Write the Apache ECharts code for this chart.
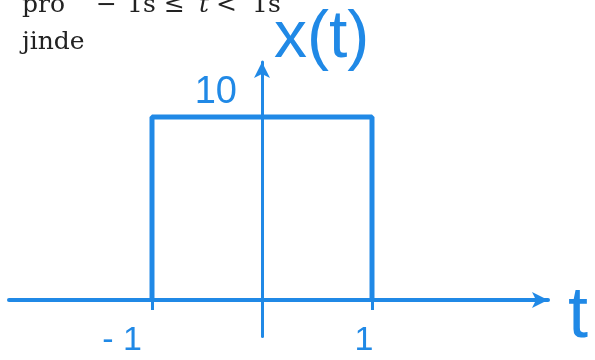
<!DOCTYPE html>
<html>
<head>
<meta charset="utf-8">
<script src="https://cdn.jsdelivr.net/npm/echarts@6/dist/echarts.min.js"></script>
<style>
  html, body { margin: 0; padding: 0; background: #fff; }
  #chart { width: 595px; height: 360px; }
</style>
</head>
<body>
<div id="chart"></div>
<script>
// rechteckiger Impuls x(t)
var pulseT = [-1, -1, 1, 1];
var pulseX = [0, 10, 10, 0];
var tickLabelsT = [-1, 1];
var tickLabelsX = [10];

var blue = '#2089e6';
var hand = 'Liberation Sans';

var pulse = [];
for (var i = 0; i < pulseT.length; i++) {
    pulse.push([pulseT[i], pulseX[i]]);
}

var myChart = echarts.init(document.getElementById('chart'));

// osy leží na nule, popisky ale jdou s okrajem gridu -> posun přes offset
var option = {
    animation: false,
    backgroundColor: '#fff',
    grid: { left: 9, top: 62, width: 539, height: 274.5, containLabel: false, outerBoundsMode: 'none' },
    graphic: [
        // text z knihy (useknutý nahoře)
        { type: 'text', left: 22, top: -7, style: { text: 'pro', fontFamily: 'DejaVu Serif', fontSize: 25, fill: '#222' } },
        { type: 'text', left: 96, top: -7, style: { text: '−', fontFamily: 'DejaVu Serif', fontSize: 25, fill: '#222' } },
        { type: 'text', left: 127, top: -7, style: { text: '1s', fontFamily: 'DejaVu Serif', fontSize: 25, fill: '#222' } },
        { type: 'text', left: 164, top: -7, style: { text: '≤', fontFamily: 'DejaVu Serif', fontSize: 25, fill: '#222' } },
        { type: 'text', left: 199, top: -7, style: { text: 't', fontFamily: 'DejaVu Serif', fontStyle: 'italic', fontSize: 25, fill: '#222' } },
        { type: 'text', left: 216, top: -7, style: { text: '<', fontFamily: 'DejaVu Serif', fontSize: 25, fill: '#222' } },
        { type: 'text', left: 252, top: -7, style: { text: '1s', fontFamily: 'DejaVu Serif', fontSize: 25, fill: '#222' } },
        { type: 'text', left: 22, top: 30, style: { text: 'jinde', fontFamily: 'DejaVu Serif', fontSize: 25, fill: '#222' } }
    ],
    xAxis: {
        type: 'value',
        position: 'bottom',
        offset: -36.6,
        min: -2.3,
        max: 2.6,
        name: '{t|t}',
        nameLocation: 'end',
        nameGap: 20,
        nameTextStyle: {
            color: blue, fontFamily: hand, fontSize: 72, align: 'left', verticalAlign: 'middle',
            rich: { t: { color: blue, fontFamily: hand, fontSize: 72, padding: [34, 0, 0, 0] } }
        },
        splitLine: { show: false },
        axisLine: {
            onZero: false,
            symbol: ['none', 'arrow'],
            symbolSize: [12, 16],
            lineStyle: { color: blue, width: 4 }
        },
        axisTick: {
            show: true,
            customValues: tickLabelsT,
            length: 10,
            lineStyle: { color: blue, width: 3 }
        },
        axisLabel: {
            customValues: tickLabelsT,
            margin: 24,
            color: blue,
            fontFamily: hand,
            fontSize: 34,
            formatter: function (v) {
                return v < 0 ? '{neg|- 1}' : '{pos|1}';
            },
            rich: {
                neg: { color: blue, fontFamily: hand, fontSize: 34, padding: [0, 60, 0, 0] },
                pos: { color: blue, fontFamily: hand, fontSize: 34, padding: [0, 16, 0, 0] }
            }
        }
    },
    yAxis: {
        type: 'value',
        position: 'left',
        offset: -253,
        min: -2,
        max: 13,
        name: 'x(t)',
        nameLocation: 'end',
        nameGap: -10,
        nameTextStyle: { color: blue, fontFamily: hand, fontSize: 66, align: 'left', verticalAlign: 'bottom', padding: [0, 0, 0, 12] },
        splitLine: { show: false },
        axisLine: {
            onZero: false,
            symbol: ['none', 'arrow'],
            symbolSize: [12, 16],
            lineStyle: { color: blue, width: 3 }
        },
        axisTick: { show: false },
        axisLabel: {
            customValues: tickLabelsX,
            margin: 25,
            color: blue,
            fontFamily: hand,
            fontSize: 38,
            verticalAlign: 'bottom',
            padding: [0, 0, 5, 0]
        }
    },
    series: [{
        type: 'line',
        data: pulse,
        symbol: 'none',
        lineStyle: { color: blue, width: 5 }
    }]
};

myChart.setOption(option);
</script>
</body>
</html>
